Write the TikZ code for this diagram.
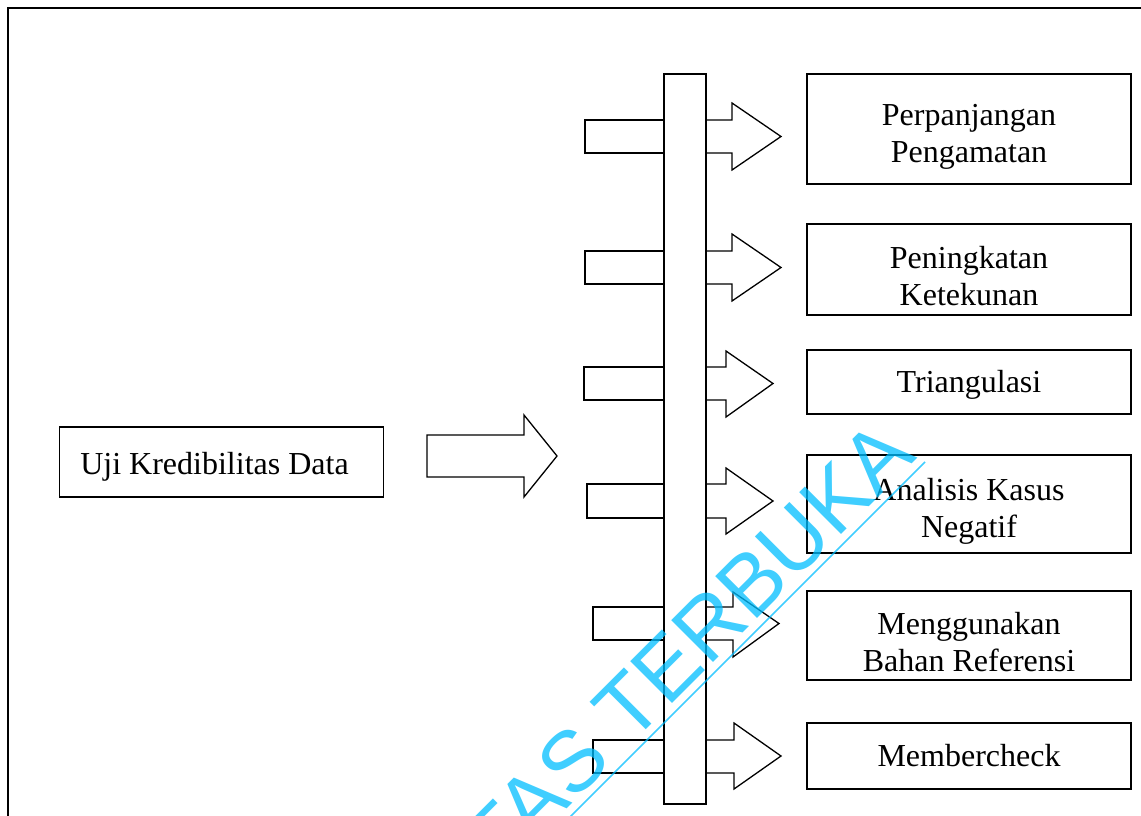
\documentclass[tikz,border=0pt]{standalone}
\usepackage{fontspec}
\setmainfont{Liberation Serif}
\newfontfamily\wmfont{Liberation Sans}
\definecolor{wmcyan}{RGB}{0,190,255}
\newcommand{\tstrut}[1]{\rule{0pt}{#1}}
\tikzset{
  box/.style={draw, line width=0.65pt, minimum width=162pt, align=center, inner sep=0pt, font=\fontsize{16}{18.5}\selectfont},
  block/.style={draw, line width=0.65pt, line join=miter},
}
\begin{document}
\begin{tikzpicture}[x=0.5pt,y=-0.5pt]
    \useasboundingbox (0,0) rectangle (1141,815);
    \clip (0,0) rectangle (1141,815);
    % outer frame
    \draw[line width=1pt] (8,830) -- (8,8) -- (1160,8);
    % boxes
    \node[box, minimum height=35pt] (uji) at (221.5,462) {\tstrut{16pt}Uji Kredibilitas Data\hspace*{7pt}};
    \node[box, minimum height=55pt] (perpanjangan) at (969,129) {\tstrut{18pt}Perpanjangan\\Pengamatan};
    \node[box, minimum height=45.5pt] (ketekunan) at (969,269.5) {\tstrut{18pt}Peningkatan\\Ketekunan};
    \node[box, minimum height=32pt] (triangulasi) at (969,382) {\tstrut{13.5pt}Triangulasi};
    \node[box, minimum height=49pt] (negatif) at (969,504) {\tstrut{18pt}Analisis Kasus\\Negatif};
    \node[box, minimum height=44.5pt] (referensi) at (969,635.5) {\tstrut{18pt}Menggunakan\\Bahan Referensi};
    \node[box, minimum height=33pt] (membercheck) at (969,756) {Membercheck};
    % main arrow
    \draw[block] (427,435) -- (524,435) -- (524,415) -- (557,456) -- (524,497) -- (524,477) -- (427,477) -- cycle;
    % bar
    \draw[block] (664,74) rectangle (706,804);
    % stubs in
    \draw[block] (664,120) -- (585,120) -- (585,153) -- (664,153);
    \draw[block] (664,251) -- (585,251) -- (585,284) -- (664,284);
    \draw[block] (664,367) -- (584,367) -- (584,400) -- (664,400);
    \draw[block] (664,484) -- (587,484) -- (587,518) -- (664,518);
    \draw[block] (664,607) -- (593,607) -- (593,640) -- (664,640);
    \draw[block] (664,740) -- (593,740) -- (593,773) -- (664,773);
    % arrows out
    \draw[block] (706,120) -- (732,120) -- (732,103) -- (781,136.5) -- (732,170) -- (732,153) -- (706,153);
    \draw[block] (706,251) -- (732,251) -- (732,234) -- (781,267.5) -- (732,301) -- (732,284) -- (706,284);
    \draw[block] (706,367) -- (726,367) -- (726,351) -- (773,383.5) -- (726,417) -- (726,400) -- (706,400);
    \draw[block] (706,484) -- (726,484) -- (726,468) -- (773,501) -- (726,534) -- (726,518) -- (706,518);
    \draw[block] (706,607) -- (733,607) -- (733,592) -- (779,623.5) -- (733,657) -- (733,640) -- (706,640);
    \draw[block] (706,740) -- (734,740) -- (734,723) -- (781,756) -- (734,789) -- (734,773) -- (706,773);
    % watermark
    \begin{scope}[opacity=0.75]
        \node[wmcyan, font=\wmfont\fontsize{43}{47}\selectfont, rotate=45, anchor=base east, inner sep=0pt] (wm) at (918,458) {UNIVERSITAS TERBUKA};
        \draw[wmcyan, line width=0.8pt] (925,462) -- (545,842);
    \end{scope}
\end{tikzpicture}
\end{document}
